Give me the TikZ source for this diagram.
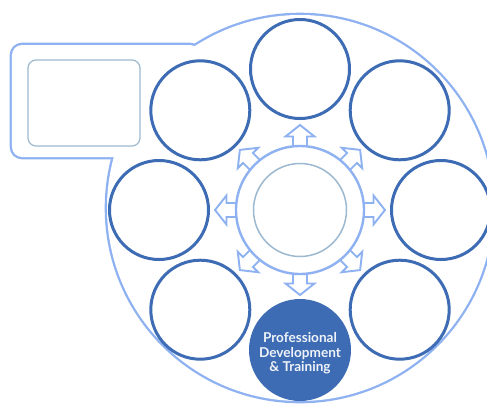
\documentclass[tikz,border=0pt]{standalone}
\usepackage{fontspec}
\setsansfont{Lato}
\usepackage{xcolor}
\definecolor{deepblue}{HTML}{3D6CB4}
\definecolor{paleblue}{HTML}{8EB1F2}
\definecolor{mistblue}{HTML}{9DB9D0}

\begin{document}
\begin{tikzpicture}[
    x=1pt, y=1pt,
    % --- shape styles ---
    shell/.style={draw=paleblue, line width=4.6pt},
    sat/.style={
      circle, draw=deepblue, line width=3pt,
      minimum size=99pt, inner sep=0pt},
    focus/.style={
      circle, fill=deepblue, minimum size=102pt, inner sep=0pt},
    caption/.style={
      align=center, text=white!92!deepblue, inner sep=0pt,
      font=\sffamily\bfseries\fontsize{13.6}{14.4}\selectfont},
    hubring/.style={
      circle, draw=paleblue, line width=2.4pt, fill=white,
      minimum size=128pt, inner sep=0pt},
    core/.style={
      circle, draw=mistblue, line width=1.5pt,
      minimum size=93pt, inner sep=0pt},
    spoke/.style={draw=paleblue, line width=1.9pt, fill=white, line join=miter},
  ]

  \fill[white] (-300,210) rectangle (187,-195);
  \useasboundingbox (-300,210) rectangle (187,-195);

  % ── Outer shell: tab + big disc ──
  \draw[shell, rounded corners=10pt] (-288,165) rectangle (-100,53);
  \draw[shell] (0,2) circle[radius=193pt];
  \fill[white, rounded corners=10pt] (-288,165) rectangle (-100,53);
  \fill[white] (0,2) circle[radius=193pt];

  % ── Empty slot in the tab ──
  \node[draw=mistblue, line width=1.2pt, rounded corners=8pt,
        minimum width=112pt, minimum height=86pt] (slot) at (-216,107) {};

  % ── Spokes round the hub ──
  \foreach \a in {0,45,...,315}
    \draw[spoke, rotate=\a]
      (58,-7) -- (73.5,-7) -- (73.5,-14.5) -- (85,0)
      -- (73.5,14.5) -- (73.5,7) -- (58,7);

  % ── Hub ──
  \node[hubring] (hub) at (0,0) {};
  \node[core] (core) at (hub) {};

  % ── Satellite circles ──
  \node[sat] (north)     at (90:141)  {};
  \node[sat] (northeast) at (45:141)  {};
  \node[sat] (east)      at (0:141)   {};
  \node[sat] (southeast) at (-45:141) {};
  \node[sat] (southwest) at (-135:141) {};
  \node[sat] (west)      at (180:141) {};
  \node[sat] (northwest) at (135:141) {};
  \node[focus] (pdt)     at (270:140) {};
  \node[caption] (pdtlabel) at ([yshift=-3.5pt]pdt.center)
    {Professional\\Development\\\& Training};

\end{tikzpicture}
\end{document}
